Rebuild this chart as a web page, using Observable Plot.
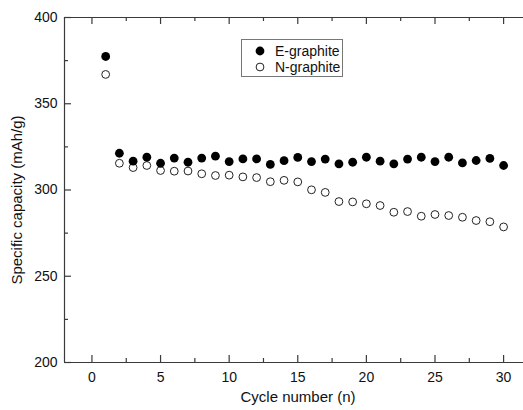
<!DOCTYPE html>
<html>
<head>
<meta charset="utf-8">
<script src="https://cdn.jsdelivr.net/npm/d3@7"></script>
<script src="https://cdn.jsdelivr.net/npm/@observablehq/plot@0.6"></script>
<style>
  html, body { margin: 0; padding: 0; background: #fff; overflow: hidden; }
  #wrap { position: relative; width: 523px; height: 410px; font-family: "Liberation Sans", Arial, sans-serif; }
  #legend { position: absolute; left: 241px; top: 39px; width: 102px; height: 38px; border: 1px solid #777; background: #fff; font-size: 14px; color: #111; box-sizing: border-box; }
  #legend .row { position: absolute; left: 0; height: 16px; line-height: 16px; white-space: nowrap; }
  #legend svg { position: absolute; left: 11px; top: 0; }
  #legend span { position: absolute; left: 33px; top: 0; }
</style>
</head>
<body>
<div id="wrap"></div>
<script>
const cycles = [1,2,3,4,5,6,7,8,9,10,11,12,13,14,15,16,17,18,19,20,21,22,23,24,25,26,27,28,29,30];
const eGraphite = [377.4,321.3,316.7,319.0,315.5,318.5,316.1,318.5,319.6,316.5,318.0,318.0,314.8,317.0,318.9,316.5,317.9,315.2,316.1,319.0,316.7,315.2,317.9,319.0,316.5,319.0,315.7,317.1,318.3,314.2];
const nGraphite = [367.0,315.5,313.0,314.2,311.3,310.9,311.0,309.4,308.4,308.6,307.6,307.2,304.8,305.6,304.7,300.1,298.6,293.3,293.1,292.0,291.0,287.1,287.5,284.8,285.8,285.2,284.2,282.3,281.6,278.6];
const seriesNames = ["E-graphite", "N-graphite"];
const xMajor = [0,5,10,15,20,25,30];
const xMinor = [2.5,7.5,12.5,17.5,22.5,27.5];
const yMajor = [200,250,300,350,400];
const yMinor = [225,275,325,375];
const xTitle = "Cycle number (n)";
const yTitle = "Specific capacity (mAh/g)";

const eData = cycles.map((c,i) => ({cycle: c, value: eGraphite[i]}));
const nData = cycles.map((c,i) => ({cycle: c, value: nGraphite[i]}));

const W = 523, H = 410, mL = 64, mR = 0, mT = 17, mB = 48;
const plotH = H - mT - mB, plotW = W - mL - mR;
const axisColor = "#3a3a3a";

const chart = Plot.plot({
  width: W, height: H,
  marginLeft: mL, marginRight: mR, marginTop: mT, marginBottom: mB,
  style: {fontFamily: "'Liberation Sans', Arial, sans-serif", fontSize: "14px", color: "#111", background: "#fff"},
  x: {domain: [-2, 31.45]},
  y: {domain: [200, 400]},
  marks: [
    // frame (top, bottom, left)
    Plot.ruleY([200, 400], {stroke: axisColor, strokeWidth: 1.2}),
    Plot.ruleX([-2], {stroke: axisColor, strokeWidth: 1.2}),
    // inward ticks, bottom
    Plot.tickX(xMajor, {x: d => d, insetTop: plotH - 7, stroke: axisColor, strokeWidth: 1.2}),
    Plot.tickX(xMinor, {x: d => d, insetTop: plotH - 4, stroke: axisColor, strokeWidth: 1.2}),
    // inward ticks, top
    Plot.tickX(xMajor, {x: d => d, insetBottom: plotH - 7, stroke: axisColor, strokeWidth: 1.2}),
    Plot.tickX(xMinor, {x: d => d, insetBottom: plotH - 4, stroke: axisColor, strokeWidth: 1.2}),
    // inward ticks, left
    Plot.tickY(yMajor, {y: d => d, insetRight: plotW - 7, stroke: axisColor, strokeWidth: 1.2}),
    Plot.tickY(yMinor, {y: d => d, insetRight: plotW - 4, stroke: axisColor, strokeWidth: 1.2}),
    // tick labels
    Plot.axisX(xMajor, {tickSize: 0, tickPadding: 10, label: null, fontSize: 14}),
    Plot.axisY(yMajor, {tickSize: 0, tickPadding: 7, label: null, fontSize: 14}),
    // titles
    Plot.text([xTitle], {text: d => d, frameAnchor: "bottom", textAnchor: "middle", dx: 4, dy: 39, fontSize: 15}),
    Plot.text([yTitle], {text: d => d, frameAnchor: "left", textAnchor: "middle", rotate: -90, dx: -47, dy: 10, fontSize: 15}),
    // data
    Plot.dot(nData, {x: "cycle", y: "value", r: 3.9, fill: "white", stroke: "#222", strokeWidth: 1}),
    Plot.dot(eData, {x: "cycle", y: "value", r: 4.4, fill: "black", stroke: "none"})
  ]
});

const wrap = document.getElementById("wrap");
wrap.appendChild(chart);

// legend
const legend = document.createElement("div");
legend.id = "legend";
seriesNames.forEach((name, i) => {
  const row = document.createElement("div");
  row.className = "row";
  row.style.top = (3 + i * 16) + "px";
  row.style.width = "100%";
  const filled = i === 0;
  row.innerHTML = `<svg width="16" height="16"><circle cx="7" cy="8" r="${filled ? 4.4 : 3.9}" fill="${filled ? "black" : "white"}" stroke="${filled ? "none" : "#222"}" stroke-width="1"/></svg><span>${name}</span>`;
  legend.appendChild(row);
});
wrap.appendChild(legend);
</script>
</body>
</html>
